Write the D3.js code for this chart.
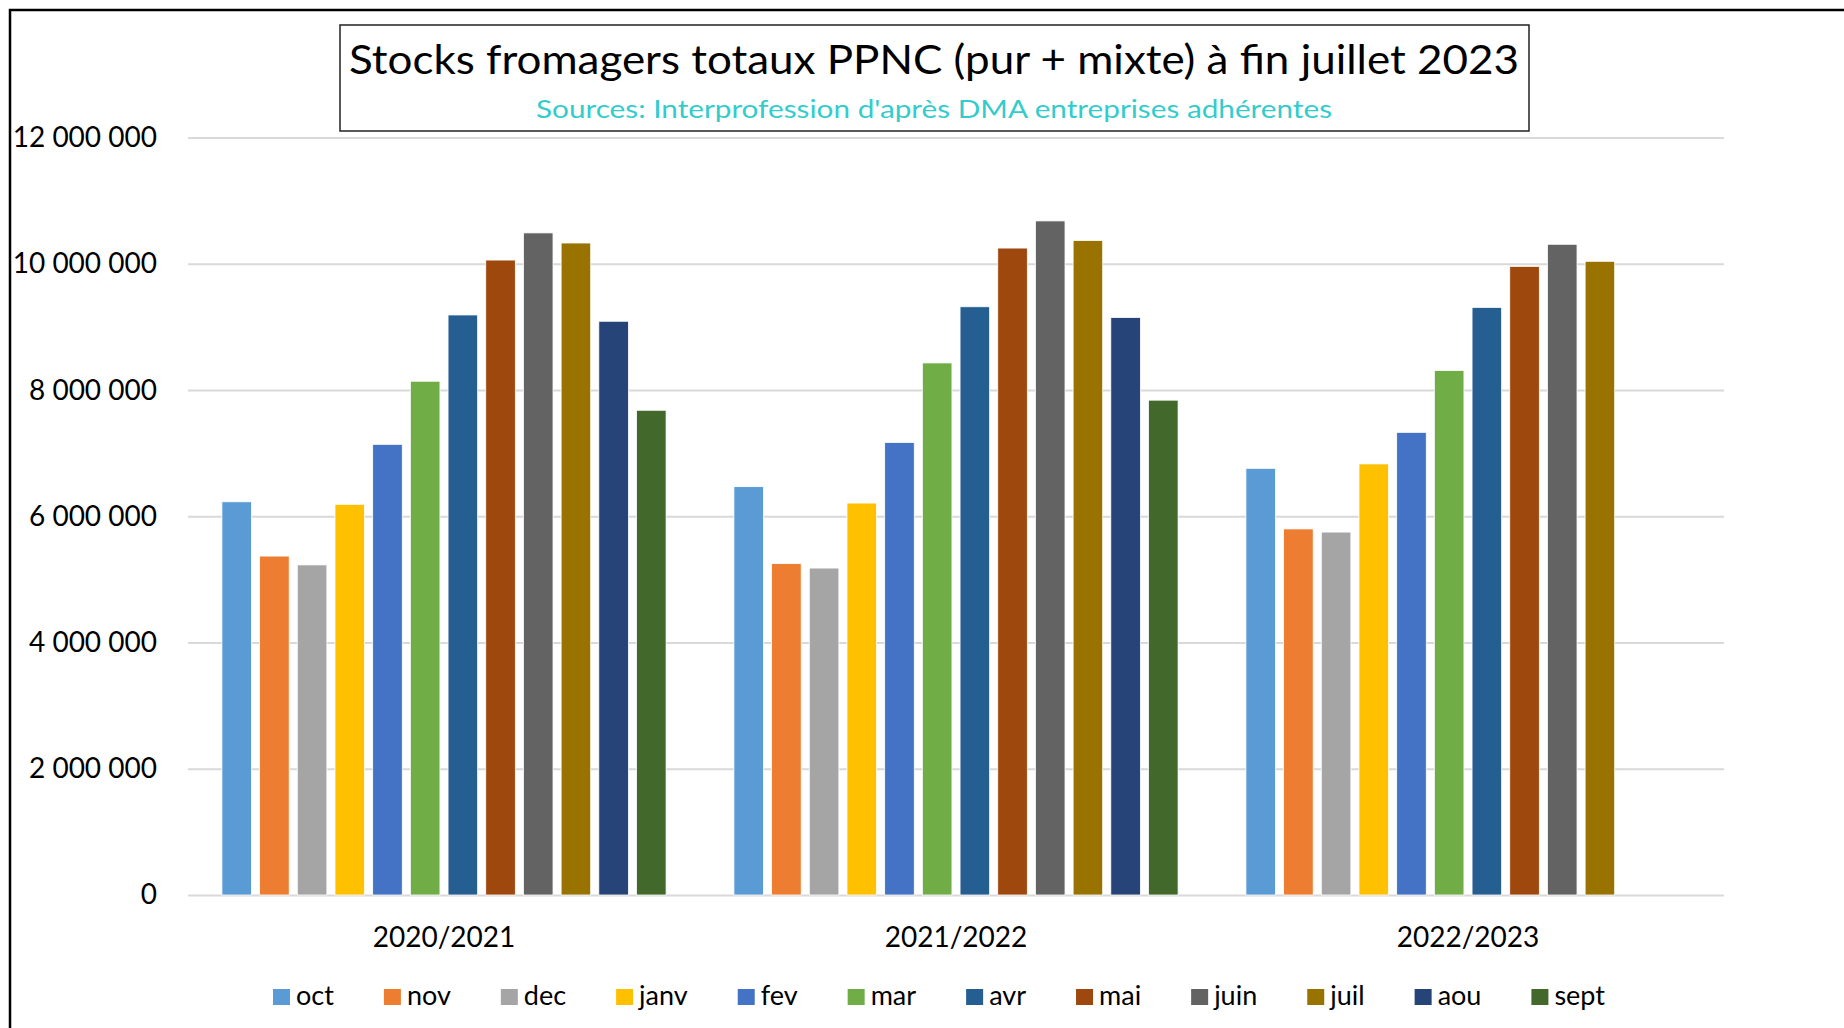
<!DOCTYPE html>
<html>
  <head>
    <meta charset="utf-8">
    <script src="https://d3js.org/d3.v7.min.js"></script>
    <style>
      body { margin: 0; background: #fff; }
      text { font-family: Lato, "Open Sans", sans-serif; }
    </style>
  </head>
  <body>
    <script>

    // campaigns on the x axis
    var campagnes = ['2020/2021', '2021/2022', '2022/2023'];

    // months = series (legend order)
    var mois = ['oct', 'nov', 'dec', 'janv', 'fev', 'mar', 'avr', 'mai', 'juin', 'juil', 'aou', 'sept'];

    var couleurs = ['#5B9BD5', '#ED7D31', '#A5A5A5', '#FFC000', '#4472C4', '#70AD47',
                    '#255E91', '#9E480E', '#636363', '#997300', '#264478', '#43682B'];

    // stocks per month, one array per campaign (null = not yet known)
    var stocks2020 = [6230000, 5370000, 5230000, 6190000, 7140000, 8140000, 9190000, 10060000, 10490000, 10330000, 9090000, 7680000];
    var stocks2021 = [6470000, 5250000, 5180000, 6210000, 7170000, 8430000, 9320000, 10250000, 10680000, 10370000, 9150000, 7840000];
    var stocks2022 = [6760000, 5800000, 5750000, 6830000, 7330000, 8310000, 9310000, 9960000, 10310000, 10040000, null, null];

    var yTicks = [0, 2000000, 4000000, 6000000, 8000000, 10000000, 12000000];

    var width = 1844, height = 1028;
    var plotLeft = 188, plotRight = 1724, plotTop = 137.6, plotBottom = 895;

    var svg = d3.select('body')
      .append('svg')
      .attr('width', width)
      .attr('height', height);

    // frame (only top and left edges are in view)
    svg.append('path')
      .attr('d', 'M10,' + height + 'V10H' + width)
      .attr('fill', 'none')
      .attr('stroke', '#000')
      .attr('stroke-width', 2.5);

    var y = d3.scaleLinear().domain([0, 12000000]).range([plotBottom, plotTop]);
    var x0 = d3.scaleBand().domain(campagnes).range([plotLeft, plotRight]);
    var x1 = d3.scaleBand().domain(mois).range([0, x0.bandwidth()])
      .paddingInner(0.215).paddingOuter(0.9);

    // gridlines + y labels
    var fmt = function(v) { return d3.format(',')(v).replace(/,/g, ' '); };
    var yAxis = d3.axisLeft(y).tickValues(yTicks).tickFormat(fmt)
      .tickSize(-(plotRight - plotLeft)).tickPadding(31);
    var ga = svg.append('g').attr('transform', 'translate(' + plotLeft + ',0)').call(yAxis);
    ga.select('.domain').remove();
    ga.selectAll('line').attr('stroke', '#D9D9D9').attr('stroke-width', 2);
    ga.selectAll('text').attr('font-size', 28).attr('fill', '#000');

    // bars
    var rows = [stocks2020, stocks2021, stocks2022];
    var groups = svg.selectAll('g.camp')
      .data(campagnes)
      .enter()
      .append('g')
      .attr('class', 'camp')
      .attr('transform', function(d) { return 'translate(' + x0(d) + ',0)'; });

    groups.selectAll('rect')
      .data(function(d, i) {
        return mois.map(function(m, j) { return { m: m, v: rows[i][j], c: couleurs[j] }; })
          .filter(function(e) { return e.v != null; });
      })
      .enter()
      .append('rect')
      .attr('x', function(d) { return x1(d.m); })
      .attr('width', x1.bandwidth())
      .attr('y', function(d) { return y(d.v); })
      .attr('height', function(d) { return y(0) - y(d.v); })
      .attr('fill', function(d) { return d.c; })
      .attr('stroke', '#fff')
      .attr('stroke-width', 0.8);

    // category labels
    var xAxis = d3.axisBottom(x0).tickSize(0).tickPadding(0);
    var gx = svg.append('g').attr('transform', 'translate(0,' + plotBottom + ')').call(xAxis);
    gx.select('.domain').remove();
    gx.selectAll('text').attr('font-size', 28).attr('fill', '#000').attr('dy', null).attr('y', 52);

    // title box
    svg.append('rect')
      .attr('x', 340).attr('y', 25).attr('width', 1189).attr('height', 106)
      .attr('fill', '#fff').attr('stroke', '#222').attr('stroke-width', 1.5);
    svg.append('text')
      .attr('x', 934).attr('y', 74)
      .attr('text-anchor', 'middle')
      .attr('font-size', 40)
      .attr('textLength', 1170).attr('lengthAdjust', 'spacingAndGlyphs')
      .text('Stocks fromagers totaux PPNC (pur + mixte) à fin juillet 2023');
    svg.append('text')
      .attr('x', 934).attr('y', 118)
      .attr('text-anchor', 'middle')
      .attr('font-size', 25)
      .attr('fill', '#33CCCC')
      .attr('textLength', 796).attr('lengthAdjust', 'spacingAndGlyphs')
      .text("Sources: Interprofession d'après DMA entreprises adhérentes");

    // legend
    var leg = svg.append('g');
    var items = leg.selectAll('g')
      .data(mois)
      .enter()
      .append('g');
    items.append('rect')
      .attr('width', 17).attr('height', 16).attr('y', 989)
      .attr('fill', function(d, i) { return couleurs[i]; });
    items.append('text')
      .attr('x', 23).attr('y', 1005)
      .attr('font-size', 27)
      .text(function(d) { return d; });
    var pos = 0;
    items.each(function() {
      var w = d3.select(this).select('text').node().getComputedTextLength();
      d3.select(this).attr('transform', 'translate(' + pos + ',0)');
      pos += 23 + w + 50;
    });
    var total = pos - 50;
    leg.attr('transform', 'translate(' + (939 - total / 2) + ',0)');

    </script>
  </body>
</html>
